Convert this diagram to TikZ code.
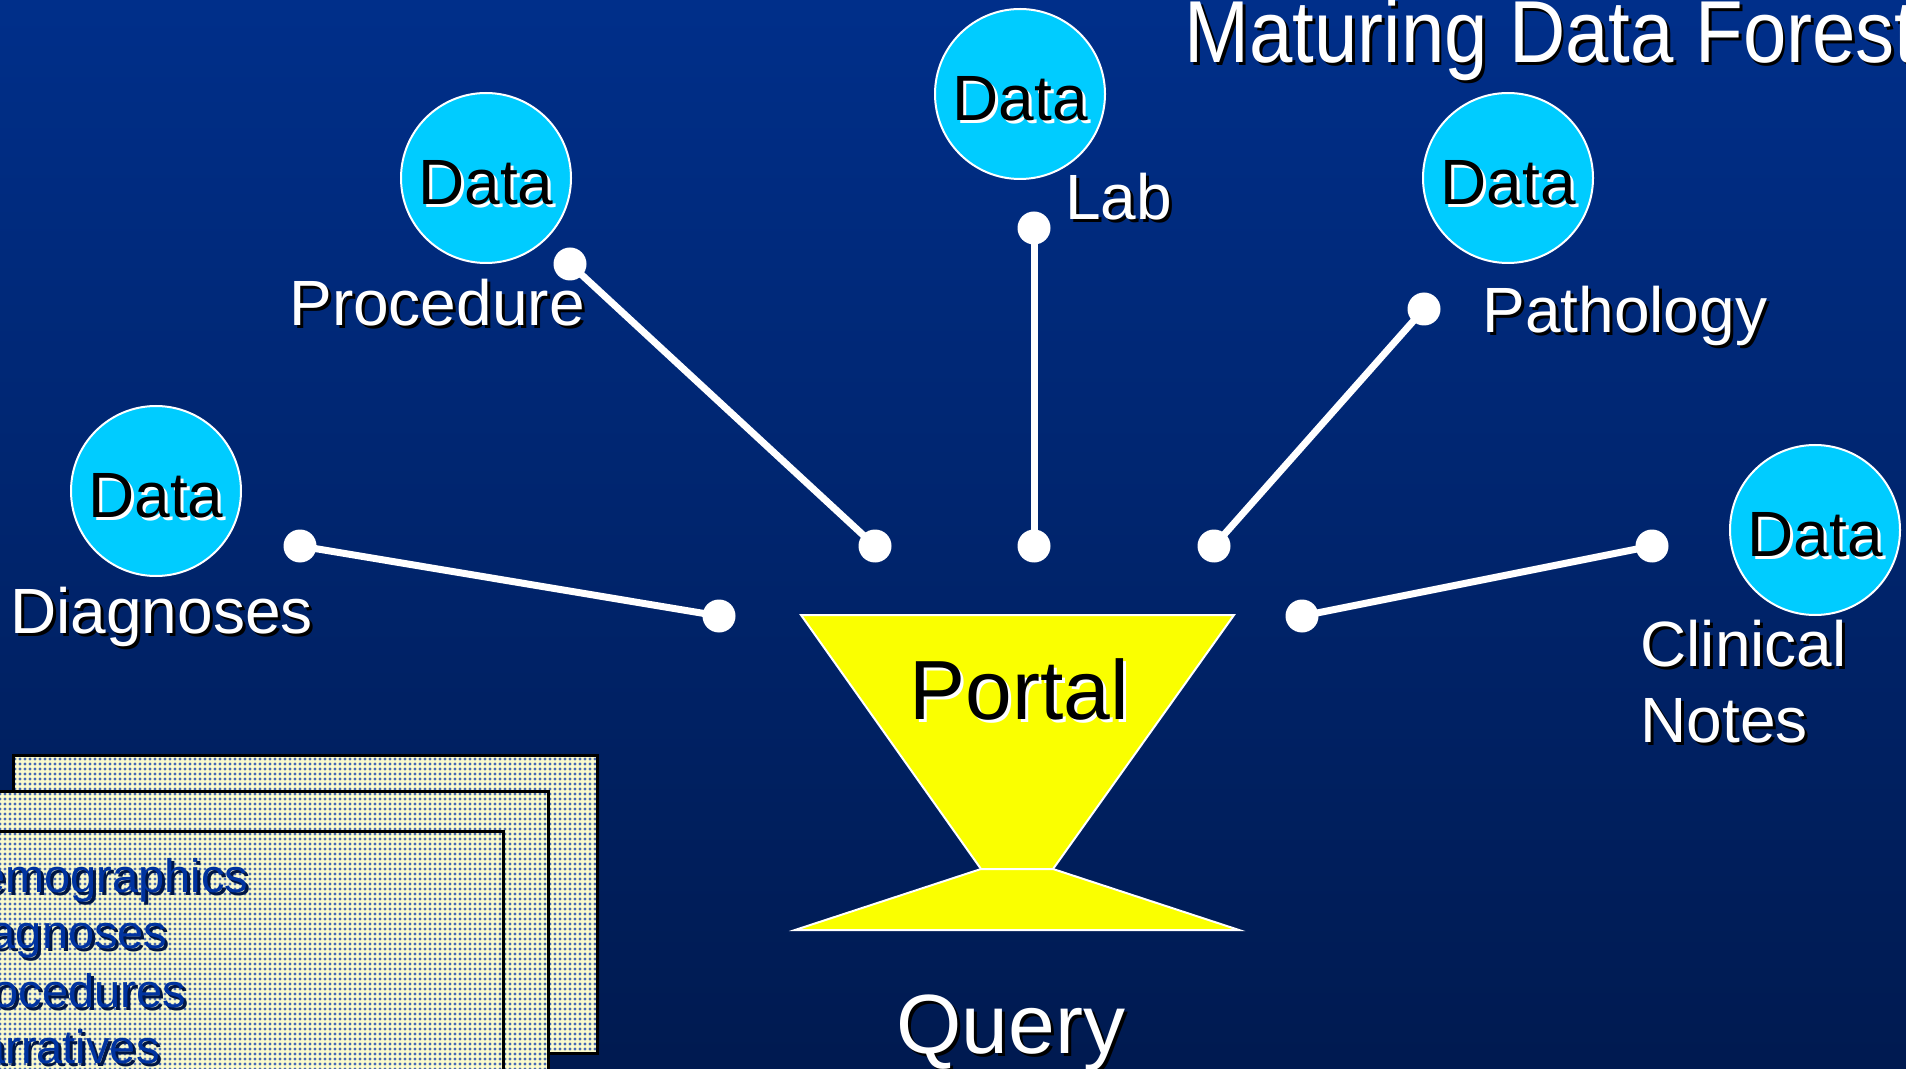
\documentclass[tikz,border=0pt]{standalone}
\usepackage{fontspec}
\setmainfont{Liberation Sans}
\usetikzlibrary{patterns}
\definecolor{bgtop}{RGB}{0,47,138}
\definecolor{bgbot}{RGB}{0,26,80}
\definecolor{datacyan}{RGB}{0,204,255}
\definecolor{portalyellow}{RGB}{250,255,0}
\definecolor{cardfill}{RGB}{250,250,205}
\definecolor{carddot}{RGB}{70,105,180}
\definecolor{cardtext}{RGB}{0,51,160}
\definecolor{cardshadow}{RGB}{0,22,70}
\pgfdeclarepatternformonly{carddots}{\pgfqpoint{-1pt}{-1pt}}{\pgfqpoint{1pt}{1pt}}{\pgfqpoint{2.5pt}{2.5pt}}{%
  \pgfpathcircle{\pgfqpoint{0pt}{0pt}}{0.8pt}\pgfusepath{fill}}
\newcommand{\shtext}[2]{\rlap{\kern1.5pt\raisebox{-1.5pt}{\color{#1}#2}}#2}
\newcommand{\datatext}{\raisebox{-2pt}[22.9pt][0pt]{\shtext{white}{Data}}}
\begin{document}
\begin{tikzpicture}[x=0.5pt,y=-0.5pt,
  datacircle/.style={circle,minimum size=85pt,inner sep=0pt,fill=datacyan,draw=white,line width=1pt,text=black,font=\fontsize{32pt}{38pt}\selectfont},
  enddot/.style={circle,minimum size=16.5pt,inner sep=0pt,fill=white},
  link/.style={white,line width=3.5pt},
  lbl/.style={anchor=base west,inner sep=0pt,text=white,font=\fontsize{32pt}{38pt}\selectfont},
  big/.style={anchor=base west,inner sep=0pt,font=\fontsize{42pt}{50pt}\selectfont},
  card/.style={draw=black,line width=1.5pt,preaction={fill=cardfill},pattern=carddots,pattern color=carddot},
  cardlbl/.style={anchor=base west,inner sep=0pt,text=cardtext,font=\fontsize{23.5pt}{28pt}\selectfont},
  portalpart/.style={draw=white,line width=1pt,fill=portalyellow,line join=miter}
]
\useasboundingbox (0,0) rectangle (1906,1069);
\clip (0,0) rectangle (1906,1069);
\shade[top color=bgtop,bottom color=bgbot] (0,0) rectangle (1906,1069);

% title
\node[anchor=base west,inner sep=0pt,text=white,font=\fontsize{44pt}{52pt}\selectfont] (title) at (1184,63) {\scalebox{0.886}[1]{\shtext{black}{Maturing Data Forest}}};

% data circles
\node[datacircle] (cdiag) at (156,491) {\datatext};
\node[datacircle] (cproc) at (486,178) {\datatext};
\node[datacircle] (clab)  at (1020,94) {\datatext};
\node[datacircle] (cpath) at (1508,178) {\datatext};
\node[datacircle] (cclin) at (1815,530) {\datatext};

% labels
\node[lbl] (ldiag) at (10,633) {\shtext{black}{Diagnoses}};
\node[lbl] (lproc) at (289,326) {\shtext{black}{Procedure}};
\node[lbl] (llab) at (1065,220) {\shtext{black}{Lab}};
\node[lbl] (lpath) at (1482,333) {\shtext{black}{Pathology}};
\node[lbl] (lclin1) at (1640,666) {\shtext{black}{Clinical}};
\node[lbl] (lclin2) at (1640,742) {\shtext{black}{Notes}};

% connector end dots
\node[enddot] (d1a) at (300,546) {};
\node[enddot] (d1b) at (719,616) {};
\node[enddot] (d2a) at (570,264) {};
\node[enddot] (d2b) at (875,546) {};
\node[enddot] (d3a) at (1034,228) {};
\node[enddot] (d3b) at (1034,546) {};
\node[enddot] (d4a) at (1424,309) {};
\node[enddot] (d4b) at (1214,546) {};
\node[enddot] (d5a) at (1652,546) {};
\node[enddot] (d5b) at (1302,616) {};
\draw[link] (d1a.center) -- (d1b.center);
\draw[link] (d2a.center) -- (d2b.center);
\draw[link] (d3a.center) -- (d3b.center);
\draw[link] (d4a.center) -- (d4b.center);
\draw[link] (d5a.center) -- (d5b.center);

% portal
\coordinate (ptl) at (801,615);
\coordinate (ptr) at (1234,615);
\coordinate (pnl) at (981,869);
\coordinate (pnr) at (1053,869);
\coordinate (pbl) at (795,930);
\coordinate (pbr) at (1239,930);
\draw[portalpart] (ptl) -- (ptr) -- (pnr) -- (pnl) -- cycle;
\draw[portalpart] (pnl) -- (pnr) -- (pbr) -- (pbl) -- cycle;
\node[big,text=black] (portal) at (909,719) {\shtext{white}{Portal}};
\node[big,text=white] (query) at (896,1053) {\shtext{black}{Query}};

% stacked cards
\draw[card] (13,755) rectangle (597,1053);
\draw[card] (-10,791) rectangle (548,1085);
\draw[card] (-10,831) rectangle (503,1085);
\node[cardlbl] (t1) at (-55,892) {\shtext{cardshadow}{Demographics}};
\node[cardlbl] (t2) at (-55,948) {\shtext{cardshadow}{Diagnoses}};
\node[cardlbl] (t3) at (-55,1007) {\shtext{cardshadow}{Procedures}};
\node[cardlbl] (t4) at (-55,1063) {\shtext{cardshadow}{Narratives}};
\end{tikzpicture}
\end{document}
